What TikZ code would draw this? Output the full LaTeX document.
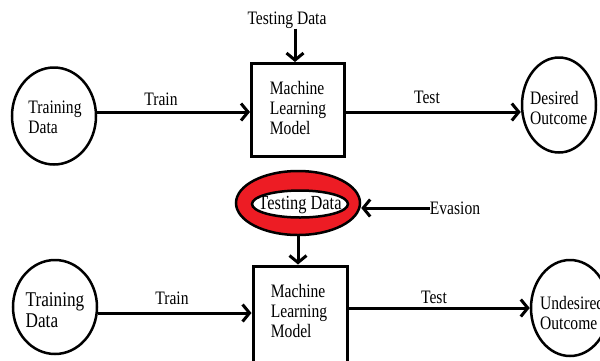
\documentclass[tikz,border=0pt]{standalone}
\usepackage{fontspec}
\setmainfont{Liberation Serif}[FakeStretch=0.82]
\usetikzlibrary{arrows.meta,shapes.geometric}
\definecolor{ringred}{RGB}{237,28,36}
\begin{document}
\begin{tikzpicture}[x=1pt,y=-1pt,
  txt/.style={inner sep=0pt,align=left,font=\fontsize{19}{20}\selectfont},
  bigtxt/.style={txt,font=\fontsize{21}{21.5}\selectfont},
  blob/.style={draw,ellipse,line width=2.5pt,inner sep=0pt},
  mlbox/.style={draw,rectangle,line width=3pt,inner sep=0pt},
  flow/.style={line width=3pt,-{Straight Barb[length=7pt,width=17pt]}}]
\clip (0,0) rectangle (600,360);
\fill[white] (0,0) rectangle (600,360);

% ---------- normal operation ----------
\node[blob,minimum width=84pt,minimum height=97pt] (trainA) at (54,116) {};
\node[txt] (trainAt) at (55,117) {Training\\Data};
\node[mlbox,minimum width=93pt,minimum height=93pt] (mlA) at (298,110) {};
\node[txt] (mlAt) at (298,108) {Machine\\Learning\\Model};
\node[blob,minimum width=74pt,minimum height=95pt] (goodA) at (559,105) {};
\node[txt,anchor=west] (goodAt) at (530,108) {Desired\\Outcome};
\node[txt] (testA) at (287,20) {Testing Data};
\node[txt] (trainLA) at (161,99) {Train};
\node[txt] (testLA) at (427,97) {Test};

\coordinate (rowA) at (0,112);
\draw[flow] (trainA.east |- rowA) -- (mlA.west |- rowA);
\draw[flow] (mlA.east |- rowA) -- (goodA.west |- rowA);
\draw[flow] ([xshift=8pt]testA.south) -- ([xshift=-3pt]mlA.north);

% ---------- evasion attack ----------
\node[blob,fill=ringred,minimum width=124pt,minimum height=64pt] (evA) at (298,203) {};
\node[blob,fill=white,minimum width=96pt,minimum height=27pt] (evIn) at (300,204) {};
\node[txt,font=\fontsize{20}{20}\selectfont] (testB) at (300,205) {Testing Data};
\node[txt] (evasion) at (455,208) {Evasion};

\node[blob,minimum width=84pt,minimum height=94pt] (trainB) at (55,307) {};
\node[bigtxt] (trainBt) at (55,310) {Training\\Data};
\node[mlbox,minimum width=94pt,minimum height=110pt] (mlB) at (300,321) {};
\node[txt] (mlBt) at (299,311) {Machine\\Learning\\Model};
\node[blob,minimum width=78pt,minimum height=96pt] (badB) at (570,308) {};
\node[txt,anchor=west] (badBt) at (540,313) {Undesired\\Outcome};
\node[txt] (trainLB) at (172,298) {Train};
\node[txt] (testLB) at (434,297) {Test};

\coordinate (rowB) at (0,313);
\coordinate (rowC) at (0,308);
\draw[flow] (evasion.west) -- (evasion.west -| evA.east);
\draw[flow] (evA.south) -- (evA.south |- mlB.north);
\draw[flow] (trainB.east |- rowB) -- (mlB.west |- rowB);
\draw[flow] (mlB.east |- rowC) -- (badB.west |- rowC);
\end{tikzpicture}
\end{document}
